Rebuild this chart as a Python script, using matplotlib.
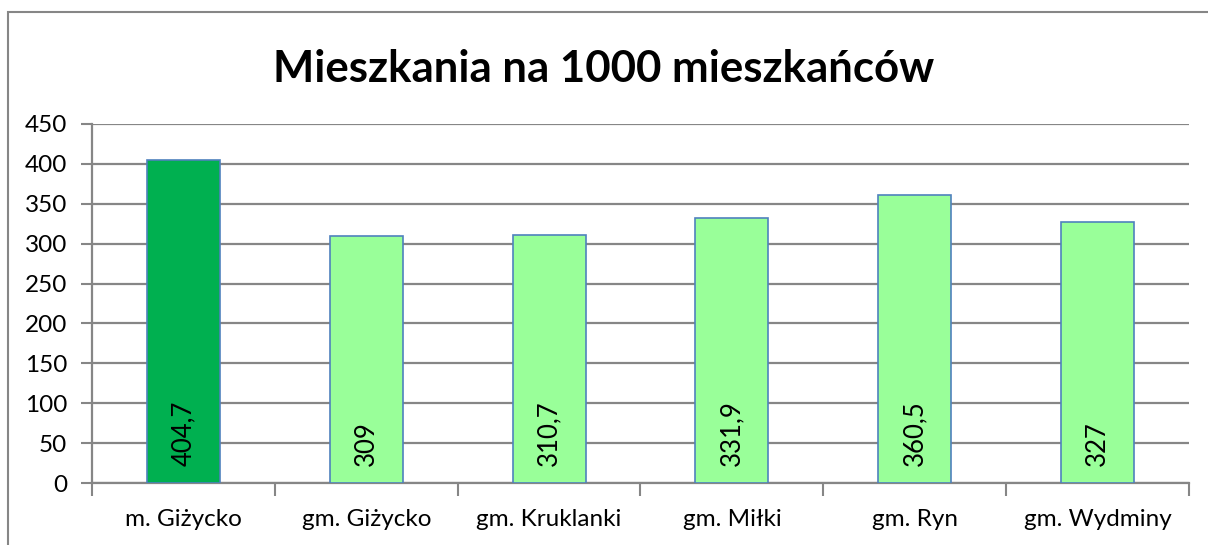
import matplotlib.pyplot as plt
from matplotlib.patches import Rectangle

# data
categories = ["m. Giżycko", "gm. Giżycko", "gm. Kruklanki", "gm. Miłki", "gm. Ryn", "gm. Wydminy"]
values = [404.7, 309, 310.7, 331.9, 360.5, 327]
labels = ["404,7", "309", "310,7", "331,9", "360,5", "327"]
colors = ["#00B050", "#99FF99", "#99FF99", "#99FF99", "#99FF99", "#99FF99"]

plt.rcParams['font.family'] = ['Lato', 'DejaVu Sans']

fig = plt.figure(figsize=(12.08, 5.45), dpi=100)
W, H = 1208, 545

# chart border
fig.patches.append(Rectangle((8 / W, -0.01), (1220 - 8) / W, (H - 12) / H + 0.01,
                             transform=fig.transFigure, fill=False,
                             edgecolor="#868686", linewidth=1.5))

ax = fig.add_axes([92 / W, 1 - 483 / H, (1189 - 92) / W, (483 - 124) / H])

x = list(range(len(categories)))
ax.bar(x, values, width=0.4, color=colors, edgecolor="#4F81BD", linewidth=1.2, zorder=3)

for xi, lab in zip(x, labels):
    ax.annotate(lab, (xi, 0), xytext=(0, 12), textcoords="offset points",
                rotation=90, ha="center", va="bottom", fontsize=18.5, zorder=4)

ax.set_xlim(-0.5, len(categories) - 0.5)
ax.set_ylim(0, 450)
ax.set_yticks(range(0, 451, 50))
ax.yaxis.grid(True, color="#868686", linewidth=1.6, zorder=0)

ax.set_xticks(x)
ax.set_xticklabels(categories, fontsize=17.5)
ax.set_xticks([i - 0.5 for i in range(len(categories) + 1)], minor=True)
ax.tick_params(axis="x", which="major", length=0, pad=19)
ax.tick_params(axis="x", which="minor", length=9, color="#868686", width=1.5)
ax.tick_params(axis="y", length=8, color="#868686", width=1.5, labelsize=17.5, pad=10)

for side in ["top", "right"]:
    ax.spines[side].set_visible(False)
ax.spines["left"].set_color("#868686")
ax.spines["bottom"].set_color("#868686")
ax.spines["left"].set_linewidth(1.6)
ax.spines["bottom"].set_linewidth(1.6)

fig.text(0.5, 1 - 69 / H, "Mieszkania na 1000 mieszkańców", ha="center", va="center",
         fontsize=31.5, fontweight="bold")

fig.savefig("out.png", dpi=100)
